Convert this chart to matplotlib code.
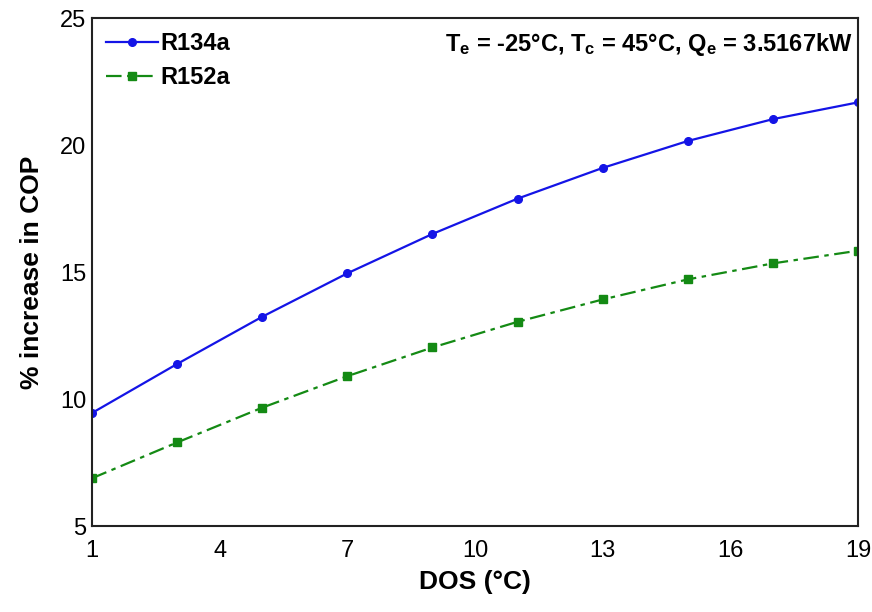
import matplotlib
matplotlib.use("Agg")
import matplotlib.pyplot as plt

plt.rcParams['font.family'] = ['Liberation Sans', 'DejaVu Sans']
plt.rcParams['mathtext.fontset'] = 'custom'
plt.rcParams['mathtext.bf'] = 'Liberation Sans:bold'
plt.rcParams['mathtext.rm'] = 'Liberation Sans:bold'
plt.rcParams['mathtext.default'] = 'bf'

# Data
dos = [1, 3, 5, 7, 9, 11, 13, 15, 17, 19]
r134a = [9.45, 11.38, 13.24, 14.95, 16.5, 17.89, 19.1, 20.16, 21.02, 21.68]
r152a = [6.88, 8.29, 9.66, 10.9, 12.03, 13.04, 13.92, 14.71, 15.34, 15.84]
xticks = [1, 4, 7, 10, 13, 16, 19]
yticks = [5, 10, 15, 20, 25]

fig = plt.figure(figsize=(8.72, 6.12), dpi=100)
ax = fig.add_axes([0.1055, 0.1405, 0.8785, 0.830])

ax.plot(dos, r134a, color='#1414e6', lw=1.6, marker='o', ms=5.5, label='R134a')
ax.plot(dos, r152a, color='#148a14', lw=1.6, marker='s', ms=5.5,
        dashes=(7, 2.5, 2, 2.5), label='R152a')

ax.set_xlim(1, 19)
ax.set_ylim(5, 25)
ax.set_xticks(xticks)
ax.set_yticks(yticks)
ax.tick_params(length=0, labelsize=17)
ax.tick_params(axis='x', pad=10)
ax.tick_params(axis='y', pad=4)
for s in ax.spines.values():
    s.set_linewidth(1.5)
    s.set_color('#222222')

ax.set_xlabel('DOS (°C)', fontsize=19, fontweight='bold', labelpad=6)
ax.set_ylabel('% increase in COP', fontsize=19, fontweight='bold', labelpad=12)

ax.legend(loc='upper left', frameon=False, prop={'weight': 'bold', 'size': 17},
          handlelength=2.2, handletextpad=0.1, borderaxespad=0.2, labelspacing=0.45)
ax.text(0.993, 0.975, 'T$_{e}$ = -25°C, T$_{c}$ = 45°C, Q$_{e}$ = 3.5167kW',
        transform=ax.transAxes, ha='right', va='top', fontsize=17, fontweight='bold')

fig.savefig('out.png', dpi=100)
